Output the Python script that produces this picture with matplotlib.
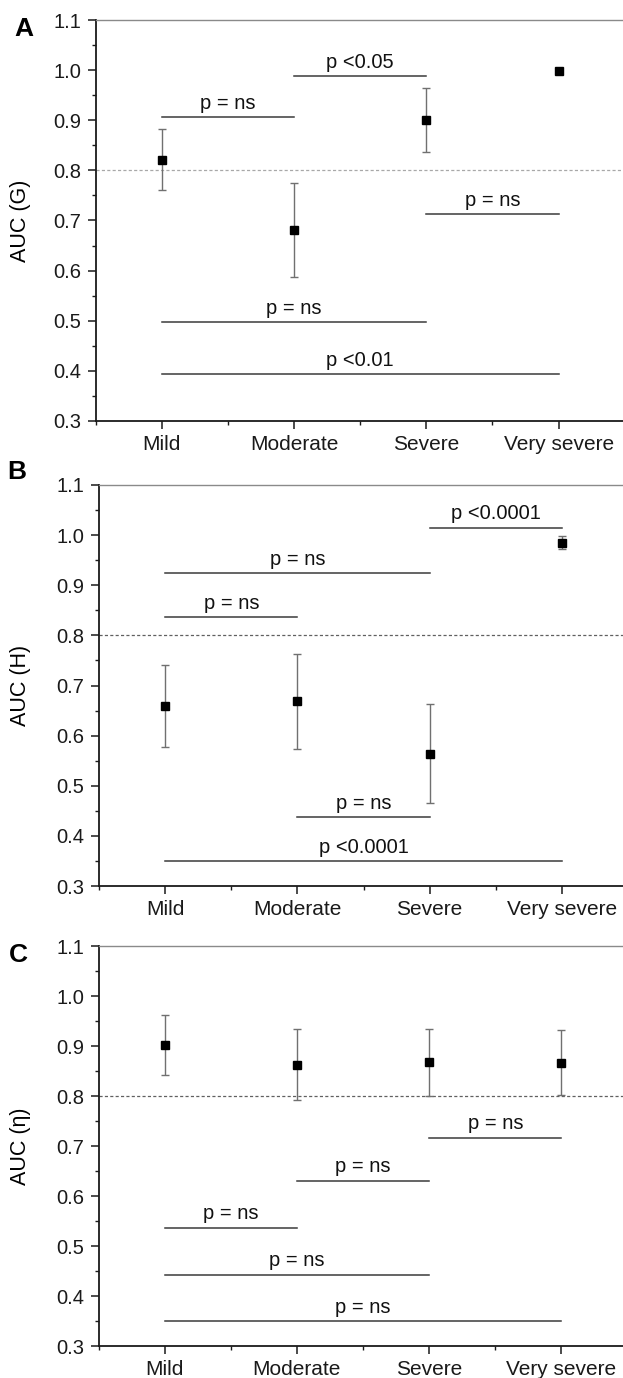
import matplotlib
matplotlib.use('Agg')
import matplotlib.pyplot as plt
from matplotlib.ticker import MultipleLocator

plt.rcParams['font.family'] = ['Liberation Sans', 'DejaVu Sans']

categories = ['Mild', 'Moderate', 'Severe', 'Very severe']

# panel A: AUC (G)
auc_g = [0.820, 0.681, 0.900, 0.998]
auc_g_lo = [0.760, 0.587, 0.837, 0.998]
auc_g_hi = [0.882, 0.775, 0.964, 0.998]
sig_g = [(1, 2, 0.906, 'p = ns'),
         (2, 3, 0.988, 'p <0.05'),
         (3, 4, 0.713, 'p = ns'),
         (1, 3, 0.497, 'p = ns'),
         (1, 4, 0.393, 'p <0.01')]

# panel B: AUC (H)
auc_h = [0.659, 0.669, 0.564, 0.985]
auc_h_lo = [0.578, 0.574, 0.466, 0.972]
auc_h_hi = [0.741, 0.763, 0.663, 0.998]
sig_h = [(3, 4, 1.015, 'p <0.0001'),
         (1, 3, 0.924, 'p = ns'),
         (1, 2, 0.837, 'p = ns'),
         (2, 3, 0.438, 'p = ns'),
         (1, 4, 0.350, 'p <0.0001')]

# panel C: AUC (eta)
auc_e = [0.902, 0.863, 0.869, 0.867]
auc_e_lo = [0.842, 0.793, 0.801, 0.802]
auc_e_hi = [0.963, 0.935, 0.935, 0.932]
sig_e = [(3, 4, 0.717, 'p = ns'),
         (2, 3, 0.631, 'p = ns'),
         (1, 2, 0.537, 'p = ns'),
         (1, 3, 0.443, 'p = ns'),
         (1, 4, 0.350, 'p = ns')]

panels = [
    ('A', 'AUC (G)', auc_g, auc_g_lo, auc_g_hi, sig_g,
     [95.7, 20, 421], (24, 29), '#a8a8a8'),
    ('B', 'AUC (H)', auc_h, auc_h_lo, auc_h_hi, sig_h,
     [99, 485, 886], (17, 472), '#606060'),
    ('C', 'AUC (\u03b7)', auc_e, auc_e_lo, auc_e_hi, sig_e,
     [98.5, 946, 1346], (18, 955), '#606060'),
]

W, H = 623, 1378
fig = plt.figure(figsize=(W / 100, H / 100), dpi=100)

for letter, ylab, vals, lo, hi, sigs, box, lpos, dcol in panels:
    left, top, bottom = box
    ax = fig.add_axes([left / W, 1 - bottom / H, 529 / W, (bottom - top) / H])
    x = list(range(1, len(categories) + 1))
    yerr = [[v - l for v, l in zip(vals, lo)], [h - v for v, h in zip(vals, hi)]]
    ax.errorbar(x, vals, yerr=yerr, fmt='none', ecolor='#707070',
                elinewidth=1, capsize=3, capthick=1, zorder=2)
    ax.plot(x, vals, 's', color='black', markersize=6, zorder=3)
    ax.axhline(0.8, color=dcol, lw=0.9, ls=(0, (2.5, 1.8)), zorder=1)

    for i, j, yv, txt in sigs:
        ax.plot([i, j], [yv, yv], color='#3a3a3a', lw=1.1)
        ax.annotate(txt, xy=((i + j) / 2, yv), xytext=(0, 3),
                    textcoords='offset points', ha='center', va='bottom',
                    fontsize=14.5, color='#111111')

    ax.set_xlim(0.5, 4.5)
    ax.set_ylim(0.3, 1.1)
    ax.set_xticks(x)
    ax.set_xticklabels(categories)
    ax.xaxis.set_minor_locator(MultipleLocator(0.5))
    ax.yaxis.set_major_locator(MultipleLocator(0.1))
    ax.yaxis.set_minor_locator(MultipleLocator(0.05))
    ax.yaxis.set_major_formatter(plt.FuncFormatter(lambda v, p: '%.1f' % v))
    ax.tick_params(axis='both', which='major', direction='out', length=6,
                   width=1.1, labelsize=14.5, colors='#1a1a1a')
    ax.tick_params(axis='x', which='major', pad=4, labelsize=15)
    ax.tick_params(axis='y', which='major', pad=4.5)
    ax.tick_params(axis='both', which='minor', direction='out', length=3,
                   width=1.0, colors='#1a1a1a')
    ax.tick_params(top=False, right=False, which='both')

    ax.spines['right'].set_visible(False)
    ax.spines['top'].set_color('#8a8a8a')
    ax.spines['top'].set_linewidth(1.0)
    ax.spines['left'].set_linewidth(1.3)
    ax.spines['bottom'].set_linewidth(1.3)
    ax.spines['left'].set_color('#1a1a1a')
    ax.spines['bottom'].set_color('#1a1a1a')

    ax.set_ylabel(ylab, fontsize=15.5)
    ax.yaxis.set_label_coords((31 - left) / 529, 0.5)

    fig.text(lpos[0] / W, 1 - lpos[1] / H, letter, fontsize=19,
             fontweight='bold', ha='center', va='center')

fig.savefig('out.png', dpi=100)
